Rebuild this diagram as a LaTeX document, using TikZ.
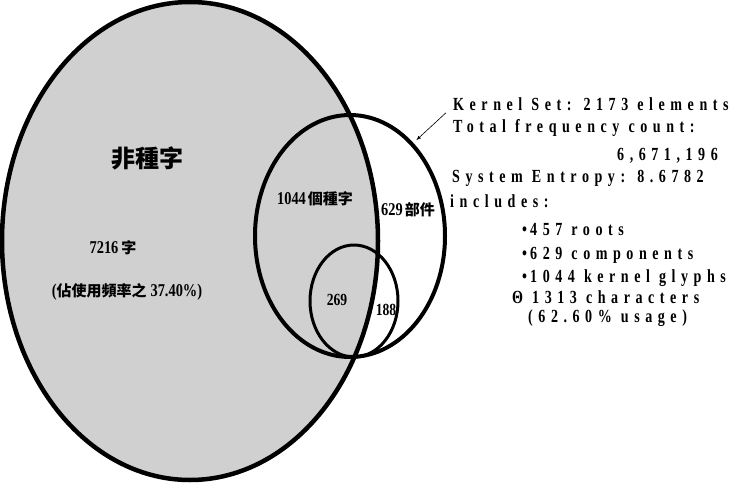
\documentclass[tikz,border=0pt]{standalone}
\usepackage{fontspec}
\usepackage{tikz}
\usepackage{xcolor}
\usetikzlibrary{shapes,arrows}
\setmainfont{Liberation Serif}
\newfontfamily\cjk{Noto Sans CJK TC}
\newfontfamily\enfont[FakeStretch=0.76,LetterSpace=30]{Liberation Serif}
\newfontfamily\numfont[FakeStretch=0.8]{Liberation Serif}
\definecolor{setgray}{RGB}{208,208,208}

\begin{document}
\begin{tikzpicture}[x=1pt,y=-1pt,
    setline/.style={ellipse,draw=black,inner sep=0pt,outer sep=0pt},
    infotext/.style={anchor=base west,inner sep=0pt,font=\enfont\bfseries\fontsize{18.5}{18.5}\selectfont},
    cjklabel/.style={inner sep=0pt,font=\cjk\bfseries\fontsize{15}{15}\selectfont},
    numlabel/.style={inner sep=0pt,font=\numfont\bfseries\fontsize{17}{17}\selectfont}]
                \useasboundingbox (0,0) rectangle (740,485);
                % Draw sets
                \node[setline,line width=4.5pt,fill=setgray,minimum width=376pt,minimum height=478pt] (nonkernel) at (190,241) {};
                \node[setline,line width=4pt,minimum width=190pt,minimum height=242pt] (kernel) at (350,236) {};
                \node[setline,line width=3pt,minimum width=88pt,minimum height=112pt] (roots) at (354,301) {};

                % Set labels
                \node[cjklabel,font=\cjk\bfseries\fontsize{24}{24}\selectfont] (nonkernelname) at (147,158) {非種字};
                \node[cjklabel] (nonkernelcount) at (113,248) {{\numfont\fontsize{18}{18}\selectfont 7216}\hspace{3pt}字};
                \node[cjklabel] (nonkernelfreq) at (127,292) {{\numfont\fontsize{18}{18}\selectfont (}佔使用頻率之\hspace{4pt}{\numfont\fontsize{18}{18}\selectfont 37.40\%)}};
                \node[cjklabel] (glyphcount) at (315,199) {{\numfont\fontsize{18}{18}\selectfont 1044}\hspace{2pt}個種字};
                \node[cjklabel] (compcount) at (408,210) {{\numfont\fontsize{18}{18}\selectfont 629}\hspace{2pt}部件};
                \node[numlabel] (rootsin) at (337,300) {269};
                \node[numlabel] (rootsout) at (386,310) {188};

                % Kernel set info
                \node[infotext] (kernelinfo) at (453,110) {Kernel Set: 2173 elements};
                \node[infotext] (freqinfo) at (453,132) {Total frequency count:};
                \node[infotext] (freqvalue) at (617,160) {6,671,196};
                \node[infotext] (entropyinfo) at (452,182) {System Entropy: 8.6782};
                \node[infotext] (includesinfo) at (450,207) {includes:};
                \node[infotext] (rootsinfo) at (522,235) {\textbullet\,457 roots};
                \node[infotext] (compinfo) at (522,259) {\textbullet\,629 components};
                \node[infotext] (glyphinfo) at (522,282) {\textbullet\,1044 kernel glyphs};
                \node[infotext] (charinfo) at (512,303) {Θ 1313 characters};
                \node[infotext] (usageinfo) at (528,322) {(62.60\% usage)};

                % pointer to kernel set
                \draw[-latex,line width=0.6pt,shorten >=6pt] ([xshift=-7pt,yshift=-9pt]kernelinfo.west) -- (kernel.56);
            \end{tikzpicture}
\end{document}
